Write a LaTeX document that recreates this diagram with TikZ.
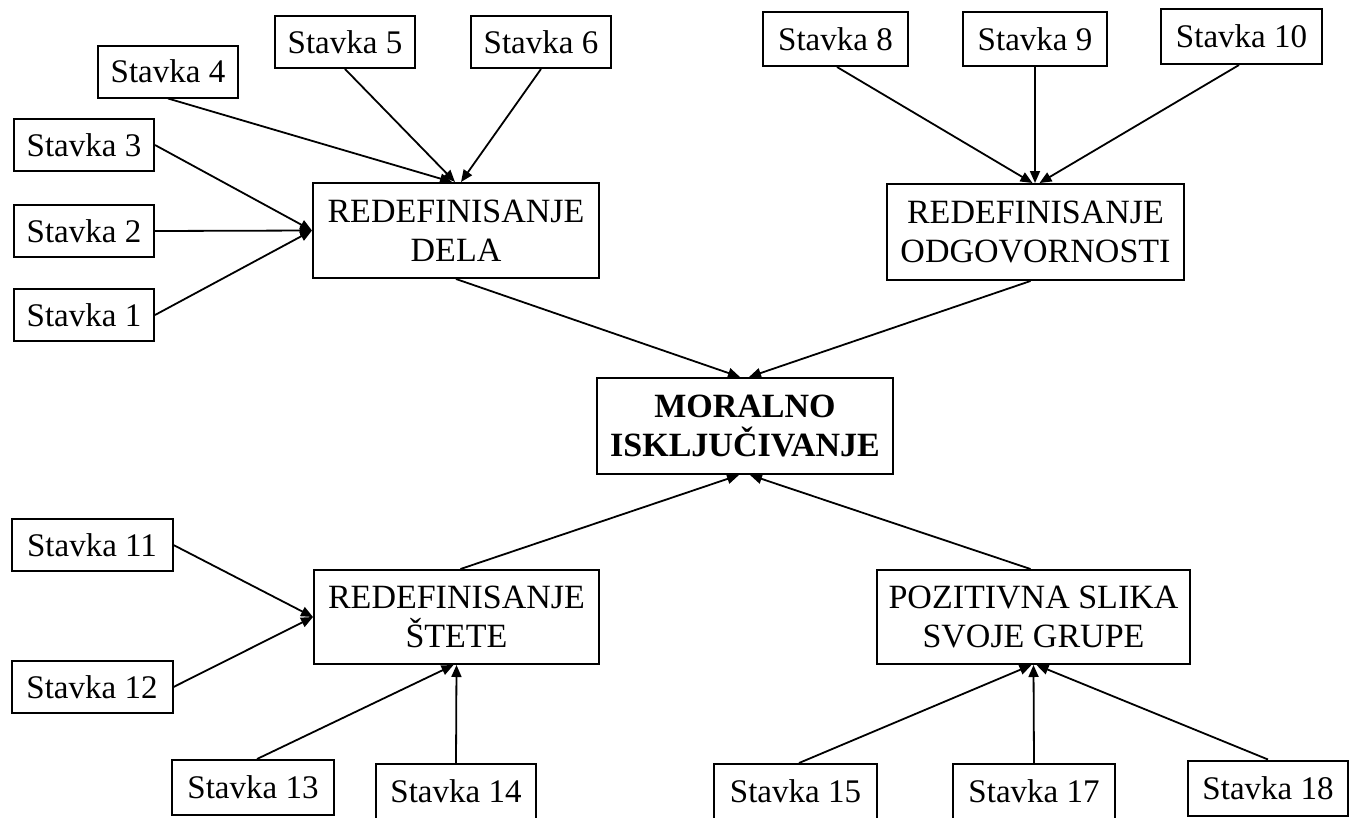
\documentclass[tikz,border=0pt]{standalone}
\usepackage{fontspec}
\setmainfont{Liberation Serif}
\usetikzlibrary{arrows.meta}
\begin{document}
\begin{tikzpicture}[x=1pt,y=-1pt,
  every node/.style={font=\fontsize{34}{39}\selectfont},
  item/.style={draw,line width=2pt,inner sep=0pt,minimum height=52pt,align=center,
    font=\fontsize{33}{38}\selectfont},
  itemA/.style={item,minimum width=140pt},
  itemB/.style={item,minimum width=161pt},
  factor/.style={draw,line width=2pt,inner sep=0pt,align=center},
  link/.style={line width=1.8pt,-{Triangle[length=12pt,width=10pt]}}]
\useasboundingbox (0,0) rectangle (1355,817);
\clip (0,0) rectangle (1355,817);

% factor boxes
\node[factor,minimum width=286pt,minimum height=95pt] (dela) at (456,230.5) {REDEFINISANJE\\DELA};
\node[factor,minimum width=297pt,minimum height=96pt] (odg) at (1035.5,232) {REDEFINISANJE\\ODGOVORNOSTI};
\node[factor,minimum width=296pt,minimum height=96pt] (mor) at (745,426) {\bfseries MORALNO\\\bfseries ISKLJUČIVANJE};
\node[factor,minimum width=285pt,minimum height=94pt] (stete) at (456.5,617) {REDEFINISANJE\\ŠTETE};
\node[factor,minimum width=313pt,minimum height=94pt] (poz) at (1033.5,617) {POZITIVNA SLIKA\\SVOJE GRUPE};

% items
\node[itemA] (s4) at (168,71.5) {Stavka 4};
\node[itemA] (s5) at (345,42) {Stavka 5};
\node[itemA] (s6) at (541,42) {Stavka 6};
\node[itemA] (s3) at (84,145) {Stavka 3};
\node[itemA] (s2) at (84,231) {Stavka 2};
\node[itemA] (s1) at (84,315) {Stavka 1};
\node[itemA,minimum width=145pt,minimum height=54pt] (s8) at (835.5,39) {Stavka 8};
\node[itemA,minimum width=144pt,minimum height=54pt] (s9) at (1035,39) {Stavka 9};
\node[itemB,minimum height=55pt] (s10) at (1241.5,36.5) {Stavka 10};
\node[itemB] (s11) at (92,545) {Stavka 11};
\node[itemB] (s12) at (92,687) {Stavka 12};
\node[itemB,minimum width=162pt,minimum height=55pt] (s13) at (253,787.5) {Stavka 13};
\node[itemB,minimum width=160pt,minimum height=55pt] (s14) at (456,791.5) {Stavka 14};
\node[itemB,minimum width=163pt,minimum height=55pt] (s15) at (795.5,791.5) {Stavka 15};
\node[itemB,minimum width=162pt,minimum height=55pt] (s17) at (1034,791.5) {Stavka 17};
\node[itemB,minimum width=160pt,minimum height=55pt] (s18) at (1268,788) {Stavka 18};

% items to factors
\draw[link] (s4.south) -- ([xshift=-4pt]dela.north);
\draw[link] (s5.south) -- ([xshift=-1pt]dela.north);
\draw[link] (s6.south) -- ([xshift=5pt]dela.north);
\draw[link] (s3.east) -- (dela.west);
\draw[link] (s2.east) -- (dela.west);
\draw[link] (s1.east) -- (dela.west);
\draw[link] ([xshift=1.5pt]s8.south) -- ([xshift=-3pt]odg.north);
\draw[link] (s9.south) -- ([xshift=-0.5pt]odg.north);
\draw[link] ([xshift=-2.5pt]s10.south) -- ([xshift=4pt]odg.north);
\draw[link] (s11.east) -- (stete.west);
\draw[link] (s12.east) -- (stete.west);
\draw[link] ([xshift=4pt]s13.north) -- ([xshift=-3pt]stete.south);
\draw[link] (s14.north) -- (stete.south);
\draw[link] ([xshift=3.5pt]s15.north) -- ([xshift=-2pt]poz.south);
\draw[link] (s17.north) -- (poz.south);
\draw[link] (s18.north) -- ([xshift=3pt]poz.south);

% factors to the central construct
\draw[link] (dela.south) -- ([xshift=-5pt]mor.north);
\draw[link] ([xshift=-5pt]odg.south) -- ([xshift=4pt]mor.north);
\draw[link] ([xshift=4pt]stete.north) -- ([xshift=-6pt]mor.south);
\draw[link] ([xshift=-3pt]poz.north) -- ([xshift=5pt]mor.south);
\end{tikzpicture}
\end{document}
